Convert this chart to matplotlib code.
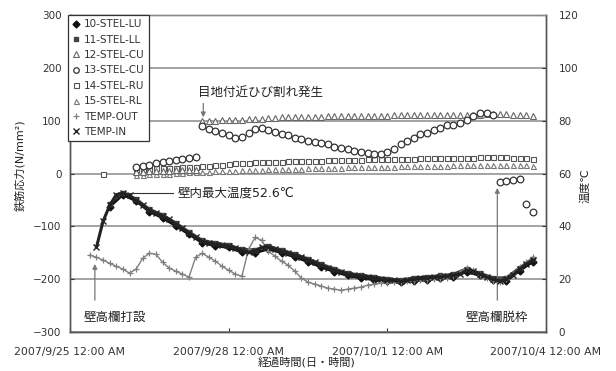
import numpy as np
import matplotlib
matplotlib.use("Agg")
import matplotlib.pyplot as plt
from matplotlib.lines import Line2D

plt.rcParams['font.family'] = ['DejaVu Sans', 'Noto Sans CJK JP']

# elapsed days from 2007/9/25 00:00
STEP = 0.125          # 3 h readings
STEP_STEEL = 0.25     # 6 h readings for the lower gauges

tick_days = [0, 3, 6, 9]
tick_labels = ['2007/9/25 12:00 AM', '2007/9/28 12:00 AM',
               '2007/10/1 12:00 AM', '2007/10/4 12:00 AM']

# rebar stress (N/mm2)
stel_10_start = 0.75
stel_10 = [-63, -40, -52, -72, -84, -99, -115, -131, -137, -140, -149, -150,
           -143, -150, -158, -167, -177, -186, -193, -198, -201, -204, -206,
           -203, -201, -198, -195, -186, -193, -202, -203, -184, -167]
stel_11_start = 0.75
stel_11 = [-57, -36, -48, -67, -78, -93, -110, -126, -131, -135, -143, -144,
           -137, -144, -152, -161, -171, -180, -188, -192, -195, -199, -201,
           -197, -195, -193, -190, -180, -188, -197, -197, -178, -161]
stel_12_start = 1.25
stel_12 = [3, 3, 4, 4, 5, 5, 6, 6, 7, 7,
           99, 100, 100, 101, 101, 102, 102, 103, 104, 104,
           105, 105, 106, 106, 106, 107, 107, 107, 107, 108,
           108, 108, 108, 108, 109, 109, 109, 109, 109, 110,
           110, 110, 110, 110, 110, 111, 111, 111, 111, 111,
           111, 111, 111, 112, 112, 112, 112, 111, 111, 110, 108]
stel_13_start = 1.25
stel_13 = [13, 15, 17, 19, 21, 23, 25, 28, 30, 32,
           89, 85, 81, 76, 72, 68, 70, 77, 85,
           87, 83, 79, 75, 72, 68, 66, 62, 60, 57, 55, 51, 49, 47, 43,
           40, 38, 36, 36, 40,
           47, 55, 62, 68, 74, 77, 83, 87, 91, 92, 96, 102, 109, 115, 115, 111,
           -17, -15, -13, -11, -58, -72]
stel_14_start = 0.625
stel_14 = [0, np.nan, np.nan, np.nan, np.nan,
           8, 9, 9, 10, 10, 11, 11, 12, 12, 13,
           14, 15, 16, 17, 18, 19, 20, 20, 21, 21,
           22, 22, 22, 23, 23, 23, 24, 24, 24, 25,
           25, 25, 26, 26, 26, 27, 27, 27, 27, 28,
           28, 28, 28, 29, 29, 29, 29, 30, 30, 30,
           30, 30, 31, 31, 31, 31, 31, 30, 30, 29, 28]
stel_15_start = 1.25
stel_15 = [-2, -2, -1, -1, 0, 0, 1, 1, 2, 2,
           3, 3, 4, 4, 5, 5, 6, 6, 7, 7,
           8, 8, 8, 9, 9, 9, 10, 10, 10, 11,
           11, 11, 12, 12, 12, 12, 13, 13, 13, 13,
           14, 14, 14, 14, 15, 15, 15, 15, 16, 16,
           16, 16, 16, 17, 17, 17, 17, 17, 16, 16, 15]

# temperature (deg C)
temp_out_start = 0.375
temp_out = [29.1, 28.3, 27.2, 26.0, 24.9, 23.8, 22.3, 23.8, 27.9, 29.8,
            29.4, 26.4, 24.2, 23.0, 21.9, 20.8, 28.3, 29.8, 28.3, 26.8,
            24.9, 23.4, 21.9, 21.1, 31.3, 35.8, 34.7, 30.6, 28.7, 26.8,
            25.3, 23.0, 20.4, 18.9, 18.1, 17.4, 16.6, 16.2, 15.8, 16.2,
            16.6, 17.0, 17.7, 18.1, 18.5, 18.5, 18.9, 18.9, 19.2, 19.2,
            19.6, 19.6, 20.0, 20.0, 20.4, 21.1, 22.6, 24.2, 23.4, 21.5,
            20.4, 19.2, 18.9, 20.0, 21.9, 24.5, 26.4, 28.3]
temp_in_start = 0.5
temp_in = [32.1, 41.9, 47.9, 52.0, 52.6, 51.7, 49.8, 47.9, 46.0, 44.9,
           43.8, 42.6, 40.8, 39.2, 37.4, 35.8, 34.3, 33.6, 33.2, 32.8,
           32.5, 31.7, 30.9, 30.2, 30.6, 32.1, 32.1, 31.3, 30.6, 29.8,
           29.1, 28.3, 27.2, 26.4, 25.3, 24.2, 23.4, 22.6, 21.9, 21.5,
           21.1, 20.8, 20.4, 20.0, 19.6, 19.6, 19.2, 19.6, 20.0, 20.4,
           20.4, 20.8, 20.8, 21.1, 21.5, 21.9, 23.4, 23.0, 21.9, 20.8,
           20.0, 19.2, 20.0, 21.5, 23.8, 25.7, 27.2]


def days(start, values, step=STEP):
    return start + step * np.arange(len(values))


fig = plt.figure(figsize=(6.16, 3.71), dpi=100)
ax = fig.add_axes([70 / 616, 1 - 332 / 371, 476 / 616, 317 / 371])
ax2 = ax.twinx()

grid_c = '#8a8a8a'
ax.set_xlim(0, 9)
ax.set_ylim(-300, 300)
ax.set_yticks(range(-300, 301, 100))
ax.yaxis.grid(True, color=grid_c, lw=1.1)
ax.set_axisbelow(True)
ax2.set_ylim(0, 120)
ax2.set_yticks(range(0, 121, 20))

ax.set_xticks(tick_days)
ax.set_xticklabels(tick_labels)

for a in (ax, ax2):
    for s in a.spines.values():
        s.set_color('#555555')
        s.set_linewidth(1.0)
    a.spines['top'].set_color(grid_c)
ax.tick_params(axis='y', direction='in', length=3, pad=6, labelsize=7.5,
               colors='#333333')
ax.tick_params(axis='x', direction='in', length=3, pad=11, labelsize=7.8,
               colors='#333333')
ax2.tick_params(axis='y', direction='in', length=3, pad=9, labelsize=7.5,
                colors='#333333')

# rebar gauges
h10, = ax.plot(days(stel_10_start, stel_10, STEP_STEEL), stel_10, marker='D',
               ms=3.5, color='#111111', lw=2.0, label='10-STEL-LU')
h11, = ax.plot(days(stel_11_start, stel_11, STEP_STEEL), stel_11, marker='s',
               ms=3.2, color='#444444', lw=1.8, label='11-STEL-LL')
h15, = ax.plot(days(stel_15_start, stel_15), stel_15, ls='none', marker='^',
               ms=3.6, mfc='white', mec='#777777', mew=0.8, label='15-STEL-RL')
h14, = ax.plot(days(stel_14_start, stel_14), stel_14, ls='none', marker='s',
               ms=3.6, mfc='white', mec='#555555', mew=0.8, label='14-STEL-RU')
h12, = ax.plot(days(stel_12_start, stel_12), stel_12, ls='none', marker='^',
               ms=4, mfc='white', mec='#666666', mew=0.8, label='12-STEL-CU')
h13, = ax.plot(days(stel_13_start, stel_13), stel_13, ls='none', marker='o',
               ms=4.8, mfc='white', mec='#333333', mew=0.9, label='13-STEL-CU')

# temperatures on the right scale
hto, = ax2.plot(days(temp_out_start, temp_out), temp_out, marker='+', ms=4.5,
                mew=0.9, color='#808080', lw=1.0, label='TEMP-OUT')
hti, = ax2.plot(days(temp_in_start, temp_in), temp_in, marker='x', ms=4,
                mew=1.0, color='#222222', lw=2.2, label='TEMP-IN')

fig.text(20 / 616, 1 - 165 / 371, '鉄筋応力(N/mm²)', rotation=90,
         ha='center', va='center', fontsize=8, color='#222222')
fig.text(585 / 616, 1 - 186 / 371, '温度℃', rotation=90,
         ha='center', va='center', fontsize=8, color='#222222')
fig.text(307 / 616, 1 - 363 / 371, '経過時間(日・時間)',
         ha='center', va='center', fontsize=8, color='#222222')

# notes
arrow = dict(arrowstyle='-|>', color='#777777', lw=0.9, mutation_scale=7)
ax.annotate('', xy=(0.47, -166), xytext=(0.47, -245), arrowprops=arrow)
ax.text(0.85, -272, '壁高欄打設', ha='center', va='center', fontsize=9,
        color='#222222')

ax.annotate('', xy=(8.08, -22), xytext=(8.08, -245), arrowprops=arrow)
ax.text(8.07, -272, '壁高欄脱枠', ha='center', va='center', fontsize=9,
        color='#222222')

ax.annotate('', xy=(2.52, 101), xytext=(2.52, 138), arrowprops=arrow)
ax.text(2.42, 153, '目地付近ひび割れ発生', ha='left', va='center', fontsize=9,
        color='#222222')

t_in = days(temp_in_start, temp_in)
i_max = int(np.argmax(temp_in))
ax2.plot([t_in[i_max] + 0.08, 1.95], [temp_in[i_max]] * 2, color='#333333',
         lw=0.8)
ax2.text(2.03, temp_in[i_max], f'壁内最大温度{temp_in[i_max]}℃', ha='left',
         va='center', fontsize=9, color='#222222')

handles = [h10, h11, h12, h13, h14, h15, hto, hti]
legend_handles = [Line2D([], [], ls='none', marker=h.get_marker(),
                         ms=min(h.get_markersize(), 4),
                         mfc=h.get_markerfacecolor(),
                         mec=h.get_markeredgecolor(), mew=h.get_markeredgewidth())
                  for h in handles]
leg = ax2.legend(legend_handles, [h.get_label() for h in handles],
                 loc='upper left', bbox_to_anchor=(-0.004, 1.0),
                 fontsize=7.5, frameon=True, fancybox=False, edgecolor='#333333',
                 framealpha=1, handlelength=0.7, handletextpad=0.4,
                 labelspacing=0.52, borderpad=0.4, borderaxespad=0)
leg.get_frame().set_linewidth(0.9)
for t in leg.get_texts():
    t.set_color('#333333')

fig.savefig('out.png', dpi=100)
